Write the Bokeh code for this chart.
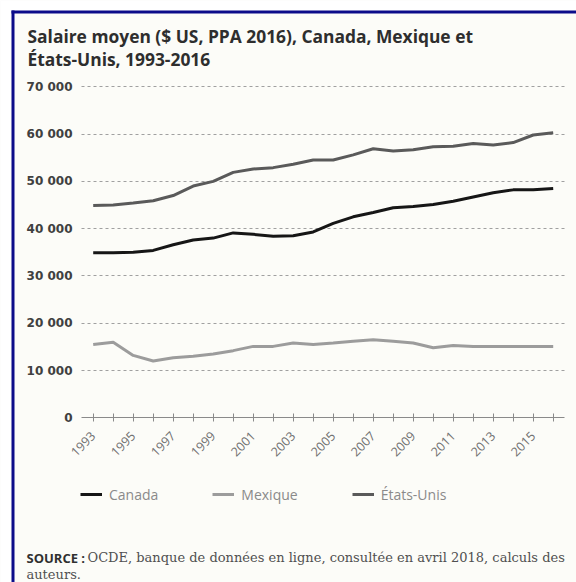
import math
from bokeh.plotting import figure
from bokeh.models import (FixedTicker, Label, Legend, LegendItem, Range1d, BoxAnnotation)
from bokeh.embed import file_html
from bokeh.resources import INLINE

# ---------------- data ----------------
years = list(range(1993, 2017))
canada = [34900, 34900, 35000, 35400, 36600, 37600, 38000, 39100, 38800, 38400,
          38500, 39300, 41100, 42500, 43400, 44400, 44700, 45100, 45800, 46700,
          47600, 48200, 48200, 48500]
mexique = [15500, 16000, 13200, 12000, 12700, 13000, 13500, 14200, 15100, 15100,
           15800, 15500, 15800, 16200, 16500, 16200, 15800, 14800, 15300, 15100,
           15100, 15100, 15100, 15100]
etats_unis = [44900, 45000, 45400, 45900, 47000, 49000, 50000, 51900, 52600, 52900,
              53600, 54500, 54500, 55600, 56900, 56400, 56700, 57300, 57400, 58000,
              57700, 58200, 59800, 60300]
series_names = ["Canada", "Mexique", "États-Unis"]
y_ticks = [0, 10000, 20000, 30000, 40000, 50000, 60000, 70000]
y_tick_labels = ["0", "10 000", "20 000", "30 000", "40 000", "50 000", "60 000", "70 000"]
x_tick_labels = {y: (str(y) if y % 2 == 1 else "") for y in years}

title_lines = ["Salaire moyen ($ US, PPA 2016), Canada, Mexique et",
               "États-Unis, 1993-2016"]
source_head = "SOURCE :"
source_line1 = "OCDE, banque de données en ligne, consultée en avril 2018, calculs des"
source_line2 = "auteurs."

# ---------------- geometry (pixels) ----------------
W, H = 576, 582
PX_PER_YEAR = 20.0
X_FIRST_PX = 92.7          # pixel position of first year
Y0_PX = 417.3              # pixel row of value 0
PX_PER_UNIT = 47.29 / 10000
PLOT_LEFT_PX, PLOT_RIGHT_PX = 81.0, 564.0

x0 = years[0] - X_FIRST_PX / PX_PER_YEAR
x1 = x0 + W / PX_PER_YEAR
y0 = -(H - Y0_PX) / PX_PER_UNIT
y1 = Y0_PX / PX_PER_UNIT
xb0 = x0 + PLOT_LEFT_PX / PX_PER_YEAR
xb1 = x0 + PLOT_RIGHT_PX / PX_PER_YEAR

CREAM = "#fcfcf8"
NAVY = "#0c0c8a"
colors = ["#161616", "#9c9c9c", "#5a5a5a"]

p = figure(width=W, height=H, output_backend="svg", toolbar_location=None,
           x_range=Range1d(x0, x1), y_range=Range1d(y0, y1),
           min_border=0, min_border_left=0, min_border_right=0, min_border_top=0,
           min_border_bottom=0, background_fill_color=CREAM,
           border_fill_color=CREAM, outline_line_color=None, title=None)

# axes (drawn inside the frame at fixed locations)
xa = p.xaxis[0]
xa.fixed_location = 0
xa.bounds = (xb0, xb1)
xa.ticker = FixedTicker(ticks=years)
xa.major_label_overrides = x_tick_labels
xa.major_label_orientation = math.pi / 4
xa.axis_line_color = "#8a8a8a"
xa.major_tick_line_color = "#8a8a8a"
xa.major_tick_in = 4
xa.major_tick_out = 4
xa.minor_tick_line_color = None
xa.major_label_standoff = 12
xa.major_label_text_font = "Open Sans"
xa.major_label_text_font_size = "12.5px"
xa.major_label_text_color = "#707070"

ya = p.yaxis[0]
ya.fixed_location = xb0
ya.bounds = (0, 70000)
ya.ticker = FixedTicker(ticks=y_ticks)
ya.major_label_overrides = dict(zip(y_ticks, y_tick_labels))
ya.axis_line_color = None
ya.major_tick_line_color = None
ya.major_tick_out = 0
ya.major_tick_in = 0
ya.minor_tick_line_color = None
ya.major_label_standoff = 9
ya.major_label_text_font = "DejaVu Sans"
ya.major_label_text_font_style = "bold"
ya.major_label_text_font_size = "12px"
ya.major_label_text_color = "#404040"

p.xgrid.visible = False
yg = p.ygrid[0]
yg.ticker = FixedTicker(ticks=y_ticks[1:])
yg.cross_bounds = (xb0, xb1)
yg.grid_line_dash = "3 3"
yg.grid_line_color = "#a0a0a0"
yg.grid_line_width = 1

# lines
renderers = []
for vals, col in zip([canada, mexique, etats_unis], colors):
    r = p.line(years, vals, line_color=col, line_width=3, line_join="round")
    renderers.append(r)

legend = Legend(items=[LegendItem(label=n, renderers=[r]) for n, r in zip(series_names, renderers)],
                location=(80, H - 504), orientation="horizontal", spacing=54,
                glyph_width=22, glyph_height=20, label_standoff=7, padding=0, margin=0,
                border_line_color=None, background_fill_alpha=0,
                label_text_font="Open Sans", label_text_font_size="14px",
                label_text_color="#8a8a8a")
p.add_layout(legend)

# outer white strip and navy frame border
for (l, r, t, b, c) in [(0, 11, H, 0, "white"), (0, W, H, H - 10, "white"),
                        (11, W, H - 10, H - 13, NAVY), (11, 14, H - 10, 0, NAVY)]:
    p.add_layout(BoxAnnotation(left=l, right=r, top=t, bottom=b,
                               left_units="screen", right_units="screen",
                               top_units="screen", bottom_units="screen",
                               fill_color=c, fill_alpha=1, line_color=None))

# title
for txt, py in zip(title_lines, [35.0, 58.3]):
    p.add_layout(Label(x=27, y=H - py, x_units="screen", y_units="screen", text=txt,
                       text_font="Open Sans", text_font_style="bold",
                       text_font_size="17.4px", text_color="#2e2e2e",
                       text_baseline="alphabetic"))

# source
p.add_layout(Label(x=26, y=H - 557, x_units="screen", y_units="screen", text=source_head,
                   text_font="Open Sans", text_font_style="bold", text_font_size="13px",
                   text_color="#303030", text_baseline="alphabetic"))
p.add_layout(Label(x=87, y=H - 557, x_units="screen", y_units="screen", text=source_line1,
                   text_font="DejaVu Serif", text_font_size="13px",
                   text_color="#505050", text_baseline="alphabetic"))
p.add_layout(Label(x=26, y=H - 574, x_units="screen", y_units="screen", text=source_line2,
                   text_font="DejaVu Serif", text_font_size="13px",
                   text_color="#505050", text_baseline="alphabetic"))

open("out.html", "w").write(file_html(p, INLINE))
